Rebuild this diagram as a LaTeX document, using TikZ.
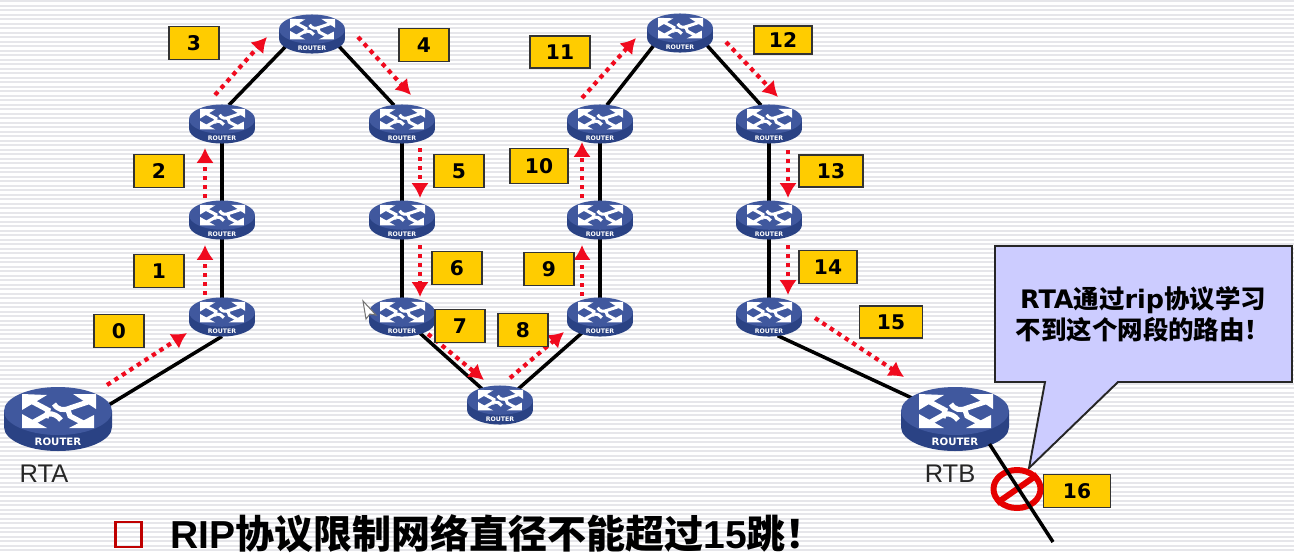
\documentclass[tikz,border=0pt]{standalone}
\usepackage{fontspec}
\setmainfont{Liberation Sans}
\newfontfamily\cjk{Noto Sans CJK SC}
\newfontfamily\verd{DejaVu Sans}
\usetikzlibrary{positioning,shapes.geometric,arrows.meta}
\definecolor{routertop}{RGB}{64,88,158}
\definecolor{routerside}{RGB}{42,66,132}
\definecolor{hopfill}{RGB}{255,204,0}
\definecolor{hopred}{RGB}{240,10,30}
\definecolor{calloutfill}{RGB}{204,204,255}
\definecolor{stripe}{RGB}{230,230,234}
\tikzset{
	smallrouter/.style={ellipse,inner sep=0pt,minimum width=1.32cm,minimum height=.76cm},
	bigrouter/.style={ellipse,inner sep=0pt,minimum width=2.16cm,minimum height=1.28cm},
	link/.style={draw=black,line width=2pt},
	hop/.style={draw=hopred,line width=2.4pt,dash pattern=on 2.5pt off 2.6pt,-{Latex[length=8.5pt,width=10pt]}},
	hopbox/.style={draw=black!80,line width=.9pt,fill=hopfill,inner sep=0pt,font=\verd\bfseries\fontsize{11.5}{13}\selectfont},
	rlabel/.style={font=\fontsize{14.5}{16}\selectfont,text=black!85},
	pics/router/.style={code={
		\begin{scope}[scale=#1]
			\fill[routerside] (-54,-8) -- (-54,8) arc[start angle=180,end angle=0,x radius=54,y radius=24] -- (54,-8) -- cycle;
			\fill[routertop] (0,-8) ellipse[x radius=54,y radius=24];
			\fill[white] (-36,-25) -- (-11,-24) -- (-36,-9) -- cycle;
			\fill[white] (38,-25) -- (15,-25) -- (38,-10) -- cycle;
			\fill[white] (-36,9) -- (-36,-5) -- (-11,9) -- cycle;
			\fill[white] (36,9) -- (36,-4) -- (11,9) -- cycle;
			\begin{scope}[draw=white,line width=#1*2.9pt]
				\draw (-27,-18) -- (-10,-9) -- (-12,-1);
				\draw (30,-17) -- (12,-11) .. controls (5,-8) and (0,-9) .. (-4,-15);
				\draw (-28,5) -- (-10,-5) .. controls (-5,-6) and (0,-3) .. (3,1);
				\draw (29,6) -- (12,-3) -- (10,-9);
			\end{scope}
			\node[transform shape,text=white,inner sep=0pt,font=\verd\bfseries\fontsize{5.8}{6}\selectfont] at (0,23) {ROUTER};
		\end{scope}
	}}
}

\begin{document}
\begin{tikzpicture}[x=.02cm,y=-.02cm]
	\useasboundingbox (0,0) rectangle (1294,555);
	\fill[white] (0,0) rectangle (1294,555);
	\foreach \y in {0,4.5,...,553}
		\fill[stripe] (0,\y) rectangle (1294,\y+2);

	% routers
	\node[bigrouter] (rta) at (58,419) {};
	\node[bigrouter] (rtb) at (955,419) {};
	\foreach \name/\x/\y in {a1/222/317,a2/222/220,a3/222/124,a4/312/34,a5/402/124,a6/402/220,a7/402/317,
		a8/500/405,a9/600/317,a10/600/220,a11/600/124,a12/680/33,a13/769/124,a14/769/220,a15/769/317}
		\node[smallrouter] (\name) at (\x,\y) {};

	% links
	\draw[link] (rta.15) -- (a1.south);
	\draw[link] (a1) -- (a2);
	\draw[link] (a2) -- (a3);
	\draw[link] (a3.70) -- (a4.205);
	\draw[link] (a4.-24) -- (a5.113);
	\draw[link] (a5) -- (a6);
	\draw[link] (a6) -- (a7);
	\draw[link] (a7) -- (a8);
	\draw[link] (a8) -- (a9);
	\draw[link] (a9) -- (a10);
	\draw[link] (a10) -- (a11);
	\draw[link] (a11.70) -- (a12.205);
	\draw[link] (a12.-24) -- (a13.113);
	\draw[link] (a13) -- (a14);
	\draw[link] (a14) -- (a15);
	\draw[link] (a15.-65) -- (rtb.154);

	\foreach \name in {a1,a2,a3,a4,a5,a6,a7,a8,a9,a10,a11,a12,a13,a14,a15}
		\pic at (\name) {router=.61};
	\pic at (rta) {router=1};
	\pic at (rtb) {router=1};

	% hops
	\foreach \i/\xa/\ya/\xb/\yb in {0/107/385/187/333,1/205/295/205/245,2/205/198/205/148,3/215/95/267/37,
		4/358/37/411/95,5/420/148/420/198,6/420/245/420/297,7/428/334/484/380,8/510/378/564/332,
		9/582/296/582/245,10/582/198/582/142,11/582/98/636/38,12/726/42/778/97,13/788/150/788/198,
		14/788/245/788/295,15/815/318/904/377}{
		\coordinate (from\i) at (\xa,\ya);
		\coordinate (to\i) at (\xb,\yb);
		\draw[hop] (from\i) -- (to\i);
	}

	\foreach \i/\x/\y/\w/\h in {0/119/331/50/33,1/159/271/50/33,2/159/171/50/33,3/194/43/50/33,4/424/45/50/33,
		5/459/171/50/33,6/457/268/50/33,7/460/326/50/33,8/523/330/50/33,9/549/269/50/33,10/539/166/58/35,
		11/560/52/60/32,12/783/40/58/28,13/831/171/64/32,14/828/267/58/33,15/891/322/63/32,16/1077/491/67/33}
		\node[hopbox,minimum width=\w*.02cm,minimum height=\h*.02cm] (box\i) at (\x,\y) {\i};

	\node[rlabel] (ltA) at (44,474) {RTA};
	\node[rlabel] (ltB) at (950,474) {RTB};

	% callout
	\draw[fill=calloutfill,draw=black!85,line width=1.1pt] (995,246) -- (1292,246) -- (1292,382) -- (1118,382)
		-- (1029,468) -- (1045,382) -- (995,382) -- cycle;
	\node[align=center,inner sep=0pt,font=\fontsize{14.5}{17.6}\selectfont\bfseries] (note) at (1143,314)
		{{\verd RTA}{\cjk 通过}{\verd rip}{\cjk 协议学习}\\{\cjk 不到这个网段的路由！}};

	% blocked link
	\node[ellipse,draw=red!90!black,line width=3.4pt,inner sep=0pt,minimum width=.94cm,minimum height=.76cm] (stop) at (1017,489) {};
	\draw[draw=red!90!black,line width=3.4pt] (stop.215) -- (stop.35);
	\coordinate (cut) at (1053,542);
	\draw[link] (rtb.-36) -- (cut);

	% cursor
	\draw[fill=white,draw=black!55,line width=.6pt] (363,301) -- (366,319) -- (370,314) -- (376,315) -- cycle;

	% title
	\node[draw=red!75!black,line width=1.6pt,minimum width=.53cm,minimum height=.5cm,inner sep=0pt] (bullet) at (128.5,534.5) {};
	\node[anchor=west,inner sep=0pt,font=\fontsize{22.2}{24}\selectfont\bfseries] (title) at (170,533.5)
		{RIP{\cjk 协议限制网络直径不能超过}15{\cjk 跳！}};
\end{tikzpicture}
\end{document}
